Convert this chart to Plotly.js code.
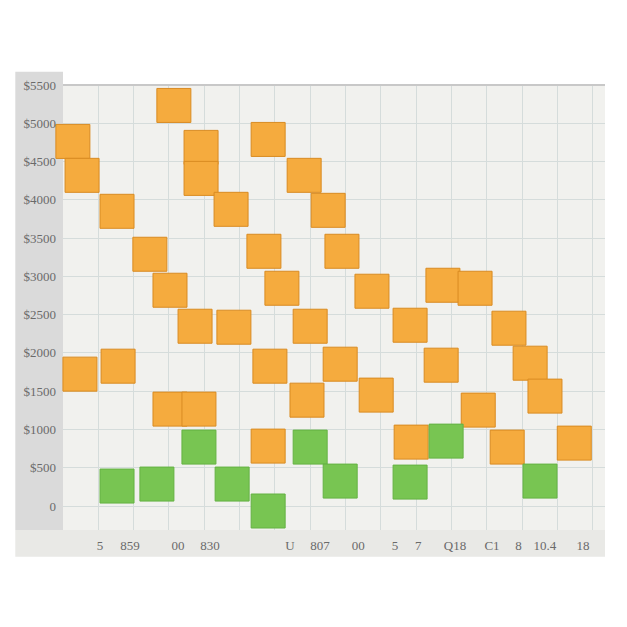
<!DOCTYPE html>
<html>
<head>
<meta charset="utf-8">
<script src="https://cdn.plot.ly/plotly-3.0.1.min.js"></script>
<style>html,body{margin:0;padding:0;background:#fff;}#chart{width:627px;height:627px;}</style>
</head>
<body>
<div id="chart"></div>
<script>
// Orange series (x position in grid columns, y value)
const orangeX = [0.28,0.54,3.14,3.91,3.91,5.81,1.53,4.76,6.83,7.51,2.46,5.69,7.90,3.03,6.20,8.75,10.76,11.67,3.74,4.84,7.00,9.83,12.63,0.48,1.56,5.86,7.85,10.71,13.23,3.03,3.85,6.91,8.87,13.65,11.76,5.81,9.86,12.58,14.48];
const orangeY = [4763,4320,5233,4685,4280,4789,3850,3876,4320,3863,3289,3328,3328,2819,2845,2806,2884,2845,2349,2336,2349,2362,2323,1723,1827,1827,1853,1840,1866,1266,1266,1383,1449,1436,1253,783,835,770,822];
// Green series
const greenX = [1.53,2.66,3.85,4.79,7.00,7.85,5.81,9.83,10.85,13.51];
const greenY = [261,287,770,287,770,326,-65,313,848,326];
// Tick labels
const yTickVals = [0,500,1000,1500,2000,2500,3000,3500,4000,4500,5000,5500];
const yTickText = ["0","$500","$1000","$1500","$2000","$2500","$3000","$3500","$4000","$4500","$5000","$5500"];
const xTickVals = [1.05,1.9,3.26,4.16,6.43,7.28,8.36,9.4,10.06,11.1,12.15,12.9,13.65,14.73];
const xTickText = ["5","859","00","830","U","807","00","5","7","Q18","C1","8","10.4","18"];

const tickFont = {family: "Liberation Serif, DejaVu Serif, serif", size: 13, color: "#6a6a6a"};

const traces = [
  {type: "scatter", mode: "markers", x: orangeX, y: orangeY, name: "orange", cliponaxis: false,
   marker: {symbol: "square", size: 34, color: "#F5AB3E", line: {color: "#D98B22", width: 1}}},
  {type: "scatter", mode: "markers", x: greenX, y: greenY, name: "green", cliponaxis: false,
   marker: {symbol: "square", size: 34, color: "#78C552", line: {color: "#64B243", width: 1}}},
  {type: "scatter", mode: "markers", x: [xTickVals[0]], y: [0], xaxis: "x2", yaxis: "y",
   marker: {opacity: 0}, hoverinfo: "skip", showlegend: false}
];

const layout = {
  width: 627, height: 627,
  margin: {l: 63, r: 22, t: 85, b: 97},
  paper_bgcolor: "#ffffff",
  plot_bgcolor: "#F1F1EE",
  showlegend: false,
  xaxis: {range: [0, 15.35], dtick: 1, tick0: 0, showticklabels: false, ticks: "",
          showgrid: true, gridcolor: "#D5DCDB", gridwidth: 1, zeroline: false, showline: false},
  xaxis2: {overlaying: "x", range: [0, 15.35], tickvals: xTickVals, ticktext: xTickText,
           side: "bottom", showgrid: false, zeroline: false, ticks: "", tickfont: tickFont,
           ticklabelstandoff: 6, anchor: "y"},
  yaxis: {range: [-313, 5500], tickvals: yTickVals, ticktext: yTickText, tickfont: tickFont,
          showgrid: true, gridcolor: "#D5DCDB", gridwidth: 1, zeroline: false, ticks: "",
          ticklabelstandoff: 6, showline: false},
  shapes: [
    {type: "rect", xref: "paper", yref: "paper", x0: -0.088, x1: 0, y0: 0, y1: 1.03,
     fillcolor: "#DADADA", line: {width: 0}, layer: "below"},
    {type: "rect", xref: "paper", yref: "paper", x0: -0.088, x1: 1.0, y0: -0.06, y1: 0,
     fillcolor: "#E9E9E6", line: {width: 0}, layer: "below"},
    {type: "line", xref: "paper", yref: "paper", x0: 0, x1: 1, y0: 1, y1: 1,
     line: {color: "#C8C8C8", width: 2}}
  ]
};

Plotly.newPlot("chart", traces, layout, {displayModeBar: false, staticPlot: true});
</script>
</body>
</html>
